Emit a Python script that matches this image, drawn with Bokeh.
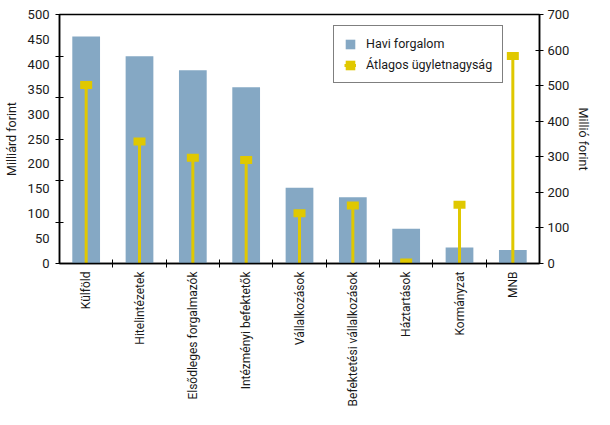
import math
from bokeh.plotting import figure
from bokeh.models import (Range1d, LinearAxis, FixedTicker, Legend, LegendItem,
                          ColumnDataSource)
from bokeh.embed import file_html
from bokeh.resources import INLINE

categories = ["Külföld", "Hitelintézetek", "Elsődleges forgalmazók",
              "Intézményi befektetők", "Vállalkozások",
              "Befektetési vállalkozások", "Háztartások", "Kormányzat", "MNB"]
havi_forgalom = [456, 416, 388, 354, 152, 133, 70, 32, 27]          # Milliárd forint (left)
atlagos_ugyletnagysag = [502, 343, 297, 291, 141, 163, 3, 165, 583]  # Millió forint (right)
left_tick_labels = [0, 50, 100, 150, 200, 250, 300, 350, 400, 450, 500]
right_tick_labels = [0, 100, 200, 300, 400, 500, 600, 700]

FONT = "Roboto"
BLUE = "#85A8C4"
YELLOW = "#E0C800"
TXT = "#1a1a1a"

xs = list(range(len(categories)))
src = ColumnDataSource(dict(x=xs, havi=havi_forgalom, atl=atlagos_ugyletnagysag,
                            zero=[0] * len(xs)))

p = figure(width=594, height=409, x_range=Range1d(-0.5, len(categories) - 0.5),
           y_range=Range1d(0, left_tick_labels[-1]),
           output_backend="svg", toolbar_location=None,
           min_border_left=59, min_border_right=30, min_border_top=14,
           min_border_bottom=100)
p.extra_y_ranges = {"right": Range1d(0, right_tick_labels[-1])}
p.grid.visible = False
p.outline_line_color = "black"
p.outline_line_width = 1.5
p.background_fill_color = "white"
p.border_fill_color = "white"

bars = p.vbar(x="x", top="havi", width=0.52, source=src, fill_color=BLUE,
              line_color=None)
stems = p.segment(x0="x", y0="zero", x1="x", y1="atl", source=src,
                  y_range_name="right", line_color=YELLOW, line_width=3)
marks = p.rect(x="x", y="atl", width=12, height=8, width_units="screen",
               height_units="screen", source=src, y_range_name="right",
               fill_color=YELLOW, line_color=None)

def style_axis(ax, size="13px"):
    ax.axis_line_color = "black"
    ax.axis_line_width = 1.5
    ax.major_label_text_font = FONT
    ax.major_label_text_font_size = size
    ax.major_label_text_color = TXT
    ax.axis_label_text_font = FONT
    ax.axis_label_text_font_size = "12.5px"
    ax.axis_label_text_font_style = "normal"
    ax.axis_label_text_color = TXT
    ax.major_tick_line_color = "black"
    ax.minor_tick_line_color = "black"

# left axis
ya = p.yaxis[0]
style_axis(ya)
n = 6
ya.ticker = FixedTicker(ticks=left_tick_labels,
                        minor_ticks=[left_tick_labels[-1] * k / n for k in range(n + 1)])
ya.major_tick_line_color = None
ya.major_tick_in = 0
ya.major_tick_out = 0
ya.minor_tick_in = 4
ya.minor_tick_out = 4
ya.major_label_standoff = 6
ya.axis_label = "Milliárd forint"
ya.axis_label_standoff = 6

# right axis
ra = LinearAxis(y_range_name="right", axis_label="Millió forint")
style_axis(ra)
ra.ticker = FixedTicker(ticks=right_tick_labels, minor_ticks=[])
ra.major_tick_in = 4
ra.major_tick_out = 4
ra.major_label_standoff = 4
ra.axis_label_standoff = 4
ra.axis_label_orientation = "vertical"
p.add_layout(ra, "right")

# bottom axis
xa = p.xaxis[0]
style_axis(xa, "12px")
xa.ticker = FixedTicker(ticks=xs, minor_ticks=[i + 0.5 for i in xs[:-1]])
xa.major_label_overrides = {i: c for i, c in zip(xs, categories)}
xa.major_label_orientation = math.pi / 2
xa.major_tick_line_color = None
xa.major_tick_in = 0
xa.major_tick_out = 0
xa.minor_tick_in = 4
xa.minor_tick_out = 4
xa.major_label_standoff = 4

legend = Legend(items=[LegendItem(label="Havi forgalom", renderers=[bars]),
                       LegendItem(label="Átlagos ügyletnagyság", renderers=[stems, marks])],
                location=(274, 180))
legend.border_line_color = "black"
legend.border_line_width = 1
legend.label_text_font = FONT
legend.label_text_font_size = "12.5px"
legend.label_text_color = TXT
legend.glyph_width = 12
legend.glyph_height = 12
legend.label_standoff = 10
legend.spacing = 6
legend.padding = 10
legend.margin = 0
legend.background_fill_alpha = 1
p.add_layout(legend)

open("out.html", "w").write(file_html(p, INLINE))
